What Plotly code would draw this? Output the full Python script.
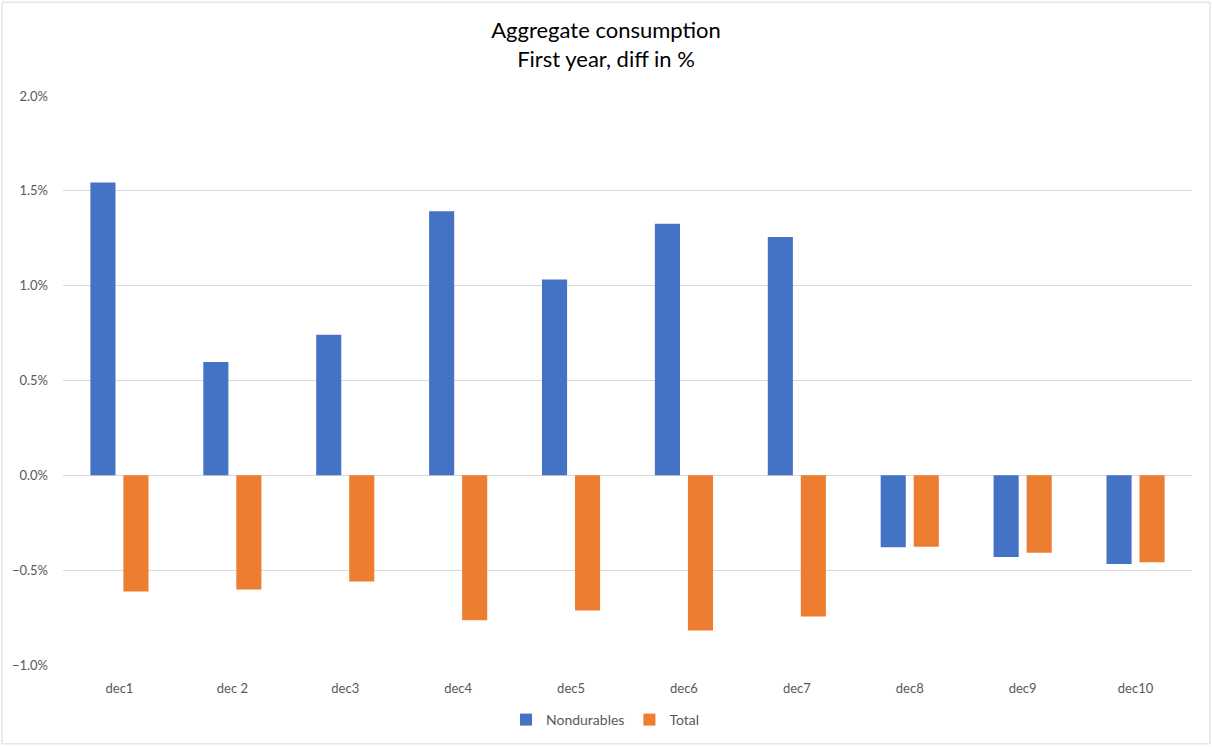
import plotly.graph_objects as go

# Consumption response by income decile, first year (fractions, shown as %)
deciles = ["dec1", "dec 2", "dec3", "dec4", "dec5", "dec6", "dec7", "dec8", "dec9", "dec10"]
nondurables = [0.01544, 0.00597, 0.00741, 0.01392, 0.01033, 0.01327, 0.01256, -0.00379, -0.00430, -0.00468]
total = [-0.00612, -0.00602, -0.00560, -0.00764, -0.00713, -0.00818, -0.00744, -0.00377, -0.00408, -0.00458]

y_ticks = [-0.01, -0.005, 0.0, 0.005, 0.01, 0.015, 0.02]

FONT = "Lato, 'Open Sans', sans-serif"
TEXT = "#595959"
GRID = "#d9d9d9"

W, H = 1212, 747
ML, MR, MT, MB = 63, 20, 96, 81
PW, PH = W - ML - MR, H - MT - MB

fig = go.Figure()
fig.add_trace(go.Bar(x=deciles, y=nondurables, name="Nondurables",
                     marker=dict(color="#4472c4", line=dict(width=0))))
fig.add_trace(go.Bar(x=deciles, y=total, name="Total",
                     marker=dict(color="#ed7d31", line=dict(width=0))))

# outer chart frame
fig.add_shape(type="rect", xref="paper", yref="paper",
              x0=(2 - ML) / PW, x1=(W - 2 - ML) / PW,
              y0=(PH + MT - (H - 2)) / PH, y1=(PH + MT - 2) / PH,
              line=dict(color=GRID, width=1), fillcolor="rgba(0,0,0,0)", layer="below")

fig.update_layout(
    width=W, height=H,
    margin=dict(l=ML, r=MR, t=MT, b=MB),
    paper_bgcolor="white", plot_bgcolor="white",
    font=dict(family=FONT, color=TEXT, size=13),
    title=dict(text="Aggregate consumption<br>First year, diff in %",
               x=0.5, xanchor="center", y=1 - 38 / H, yanchor="middle",
               font=dict(family=FONT, size=22, color="#000000")),
    barmode="group", bargap=0.415, bargroupgap=0.24,
    showlegend=True,
    legend=dict(orientation="h", x=0.5 - 22 / PW, xanchor="center", y=-54 / PH, yanchor="middle",
                font=dict(family=FONT, size=14, color=TEXT),
                itemwidth=30, traceorder="normal"),
    xaxis=dict(type="category", showgrid=False, showline=False, ticks="",
               ticklabelstandoff=14, tickfont=dict(size=13, color=TEXT)),
    yaxis=dict(range=[-0.01, 0.02], tickvals=y_ticks, tickformat=".1%",
               showgrid=True, gridcolor=GRID, gridwidth=1,
               zeroline=True, zerolinecolor=GRID, zerolinewidth=1,
               showline=False, ticks="", ticklabelstandoff=14,
               tickfont=dict(size=13, color=TEXT)),
)

fig.write_html("out.html")
